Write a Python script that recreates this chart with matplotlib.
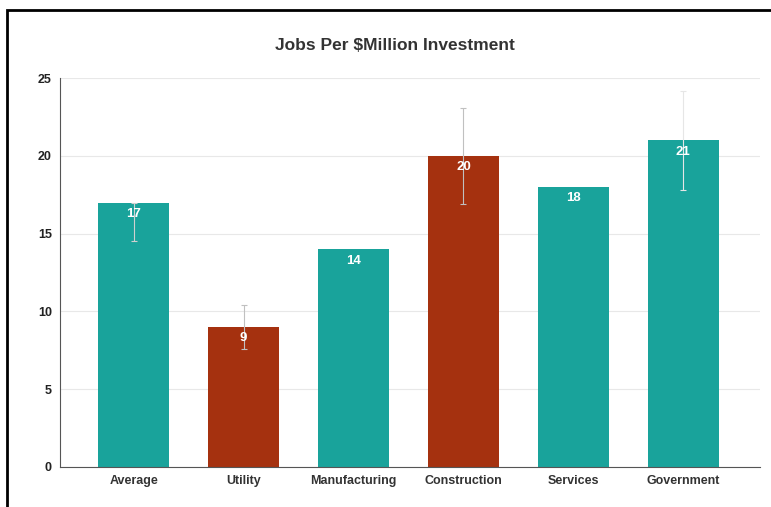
import numpy as np
import matplotlib.pyplot as plt
from matplotlib.patches import Rectangle

plt.rcParams['font.family'] = ['Liberation Sans', 'DejaVu Sans']

# dane do wykresu
kategorie = ['Average', 'Utility', 'Manufacturing', 'Construction', 'Services', 'Government']
wartosci = [17, 9, 14, 20, 18, 21]
blad_dol = [2.5, 1.4, 0, 3.1, 0, 3.2]
blad_gora = [0, 1.4, 0, 3.1, 0, 3.2]
kolory = ['#19a39b', '#a5310f', '#19a39b', '#a5310f', '#19a39b', '#19a39b']
kolory_bledow = ['#d0d0d0', '#c0c0c0', '#c0c0c0', '#c0c0c0', '#c0c0c0', '#e6e6e6']
yticki = [0, 5, 10, 15, 20, 25]

fig = plt.figure(figsize=(7.71, 5.07), dpi=100)
ax = fig.add_axes([0.078, 0.079, 0.908, 0.767])

x = np.arange(len(kategorie))
ax.bar(x, wartosci, width=0.645, color=kolory, zorder=2)

# slupki bledow tylko tam, gdzie sa niezerowe
for xi, v, d, g, k in zip(x, wartosci, blad_dol, blad_gora, kolory_bledow):
    if d > 0 or g > 0:
        ax.errorbar(xi, v, yerr=[[d], [g]], fmt='none', ecolor=k,
                    elinewidth=0.8, capsize=2.5, capthick=0.8, zorder=3)

# etykiety wartosci na slupkach
for xi, v in zip(x, wartosci):
    ax.text(xi, v - 0.35, str(v), ha='center', va='top', color='white',
            fontsize=9.5, fontweight='bold', zorder=4)

ax.set_xlim(-0.67, 5.7)
ax.set_ylim(0, 25)
ax.set_xticks(x)
ax.set_xticklabels(kategorie, fontsize=9, fontweight='bold', color='#333333')
ax.set_yticks(yticki)
ax.set_yticklabels([str(t) for t in yticki], fontsize=9, fontweight='bold', color='#222222')
ax.tick_params(length=0, pad=6)
ax.grid(axis='y', color='#e8e8e8', linewidth=0.8, zorder=0)
for s in ['top', 'right']:
    ax.spines[s].set_visible(False)
for s in ['left', 'bottom']:
    ax.spines[s].set_color('#555555')
    ax.spines[s].set_linewidth(0.8)

fig.text(0.512, 0.911, 'Jobs Per \\$Million Investment', ha='center', va='center',
         fontsize=12.5, fontweight='bold', color='#333333')

# ramka wokol calego obrazka
fig.patches.append(Rectangle((7 / 771, -0.05), 1.2, 1 - 10 / 507 + 0.05,
                             transform=fig.transFigure, fill=False,
                             edgecolor='black', linewidth=2))

fig.savefig('out.png', dpi=100)
